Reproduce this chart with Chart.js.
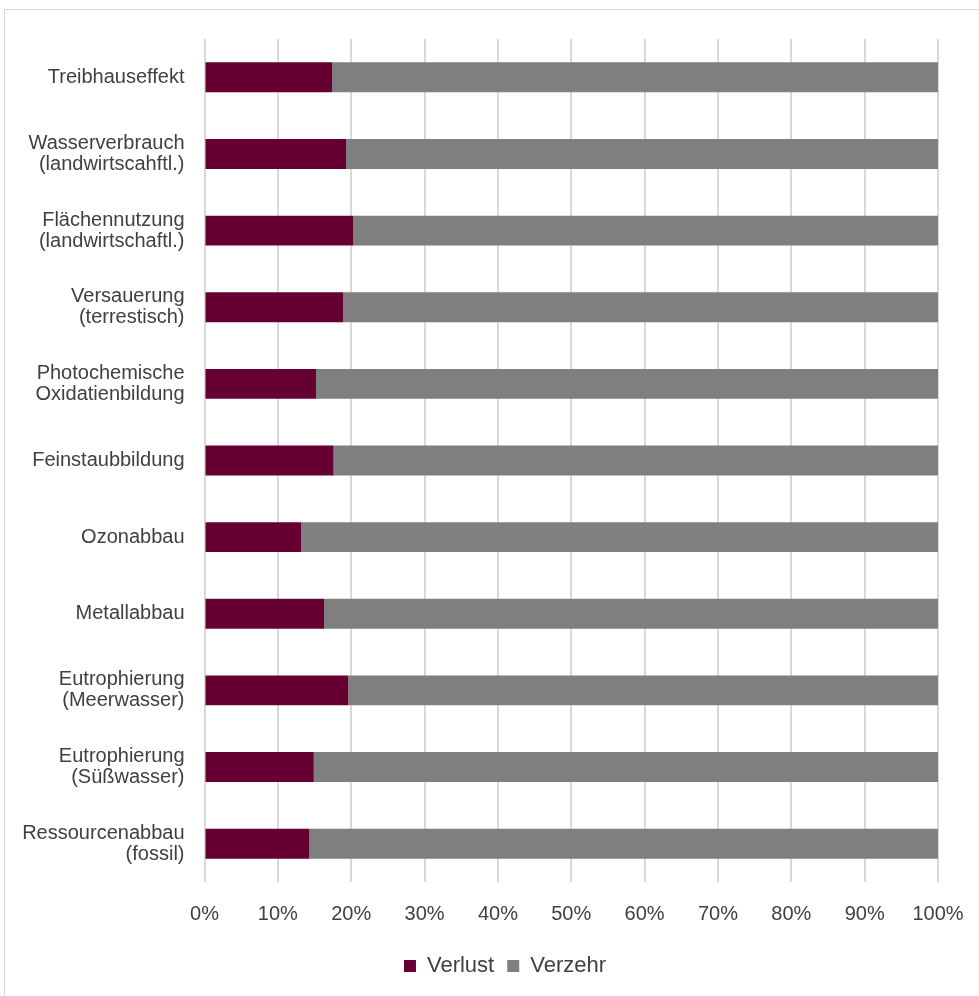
<!DOCTYPE html>
<html>
<head>
<meta charset="utf-8">
<script src="https://cdn.jsdelivr.net/npm/chart.js@4"></script>
<style>
  html, body { margin: 0; padding: 0; background: #ffffff; }
  #wrap { width: 979px; height: 996px; position: relative; }
</style>
</head>
<body>
<div id="wrap"><canvas id="c" width="979" height="996"></canvas></div>
<script>
const categories = [
  "Treibhauseffekt",
  ["Wasserverbrauch", "(landwirtscahftl.)"],
  ["Flächennutzung", "(landwirtschaftl.)"],
  ["Versauerung", "(terrestisch)"],
  ["Photochemische", "Oxidatienbildung"],
  "Feinstaubbildung",
  "Ozonabbau",
  "Metallabbau",
  ["Eutrophierung", "(Meerwasser)"],
  ["Eutrophierung", "(Süßwasser)"],
  ["Ressourcenabbau", "(fossil)"]
];
const verlust = [17.4, 19.3, 20.3, 18.9, 15.2, 17.6, 13.2, 16.3, 19.6, 14.9, 14.3];
const verzehr = [82.6, 80.7, 79.7, 81.1, 84.8, 82.4, 86.8, 83.7, 80.4, 85.1, 85.7];
const seriesNames = ["Verlust", "Verzehr"];
const xTickValues = [0, 10, 20, 30, 40, 50, 60, 70, 80, 90, 100];

const frame = {
  id: 'frame',
  beforeDraw(chart) {
    const ctx = chart.ctx;
    ctx.save();
    ctx.fillStyle = '#ffffff';
    ctx.fillRect(0, 0, chart.width, chart.height);
    ctx.strokeStyle = '#d9d9d9';
    ctx.lineWidth = 1;
    ctx.strokeRect(4.5, 9.5, chart.width + 10, chart.height + 10);
    ctx.restore();
  }
};

const legendShift = {
  id: 'legendShift',
  afterLayout(chart) {
    const lg = chart.legend;
    if (!lg) return;
    const w = lg.right - lg.left;
    const center = 505;
    lg.left = center - w / 2;
    lg.right = lg.left + w;
  }
};

new Chart(document.getElementById('c'), {
  type: 'bar',
  data: {
    labels: categories,
    datasets: [
      { label: seriesNames[0], data: verlust, backgroundColor: '#660033', borderWidth: 0 },
      { label: seriesNames[1], data: verzehr, backgroundColor: '#7f7f7f', borderWidth: 0 }
    ]
  },
  options: {
    indexAxis: 'y',
    responsive: false,
    animation: false,
    devicePixelRatio: 1,
    layout: { padding: { top: 39, right: 41, bottom: 9, left: 0 } },
    datasets: { bar: { categoryPercentage: 1.0, barPercentage: 0.39 } },
    scales: {
      x: {
        stacked: true,
        min: 0, max: 100,
        afterBuildTicks(scale) { scale.ticks = xTickValues.map(v => ({ value: v })); },
        grid: { color: '#d9d9d9', lineWidth: 2, drawTicks: false },
        border: { display: false },
        ticks: {
          padding: 20,
          color: '#404040',
          font: { family: 'Liberation Sans', size: 20 },
          callback: v => v + '%',
          maxRotation: 0
        },
        afterFit(scale) { scale.height = 60; scale.paddingRight = 0; scale.paddingLeft = 0; }
      },
      y: {
        stacked: true,
        grid: { display: false },
        border: { display: false },
        ticks: {
          padding: 12,
          color: '#404040',
          font: { family: 'Liberation Sans', size: 20, lineHeight: 1.05 }
        },
        afterFit(scale) { scale.width = 204.5; }
      }
    },
    plugins: {
      legend: {
        position: 'bottom',
        labels: {
          boxWidth: 12, boxHeight: 12,
          color: '#404040',
          font: { family: 'Liberation Sans', size: 22 },
          padding: 13
        }
      },
      tooltip: { enabled: false }
    }
  },
  plugins: [frame, legendShift]
});
</script>
</body>
</html>
